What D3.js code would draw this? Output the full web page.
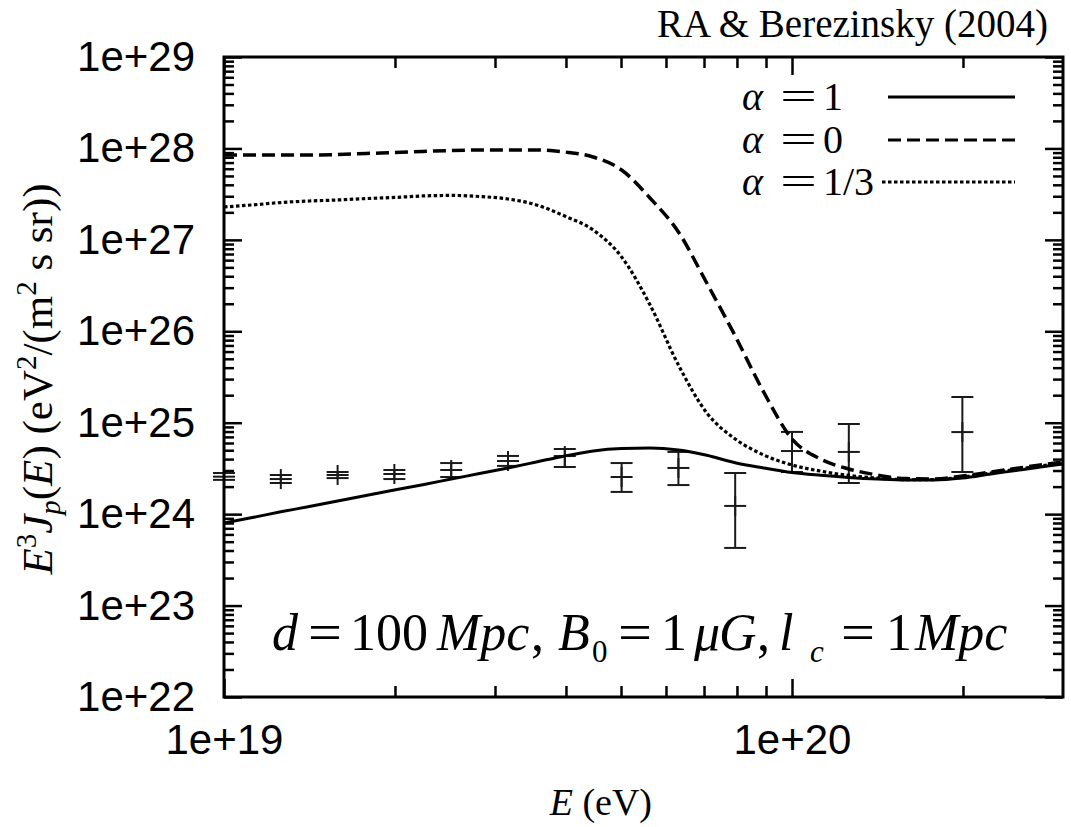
<!DOCTYPE html>
<html>
<head>
<meta charset="utf-8">
<script src="https://cdn.jsdelivr.net/npm/d3@7"></script>
<style>
  body { margin: 0; background: #ffffff; }
  svg { display: block; }
</style>
</head>
<body>
<svg id="chart" width="1071" height="827"></svg>
<script>
// ---- Model curves: E^3 J_p(E) for three injection indices ----
const curveEnergy = [1.000e19, 1.122e19, 1.259e19, 1.413e19, 1.585e19, 1.778e19, 1.995e19, 2.239e19,
  2.512e19, 2.818e19, 3.162e19, 3.548e19, 3.981e19, 4.467e19, 5.012e19, 5.623e19, 6.310e19, 7.079e19,
  7.943e19, 8.913e19, 1.000e20, 1.122e20, 1.259e20, 1.413e20, 1.585e20, 1.778e20, 1.995e20, 2.239e20,
  2.512e20, 2.818e20, 3.000e20];

const fluxAlpha1 = [8.00e23, 9.17e23, 1.06e24, 1.21e24, 1.39e24, 1.60e24, 1.84e24, 2.10e24,
  2.42e24, 2.78e24, 3.20e24, 3.72e24, 4.33e24, 4.91e24, 5.22e24, 5.29e24, 5.03e24, 4.40e24,
  3.65e24, 3.20e24, 2.85e24, 2.66e24, 2.52e24, 2.42e24, 2.36e24, 2.36e24, 2.48e24, 2.75e24,
  3.04e24, 3.37e24, 3.54e24];

const fluxAlpha0 = [8.47e27, 8.47e27, 8.47e27, 8.47e27, 8.58e27, 8.80e27, 9.03e27, 9.26e27,
  9.49e27, 9.62e27, 9.62e27, 9.62e27, 9.14e27, 8.06e27, 5.81e27, 2.87e27, 1.22e27, 3.37e26,
  8.89e25, 2.17e25, 6.64e24, 4.01e24, 3.12e24, 2.68e24, 2.45e24, 2.42e24, 2.61e24, 2.89e24,
  3.20e24, 3.54e24, 3.72e24];

const fluxAlphaThird = [2.29e27, 2.41e27, 2.56e27, 2.66e27, 2.73e27, 2.83e27, 2.91e27, 3.02e27,
  3.06e27, 2.98e27, 2.80e27, 2.41e27, 1.82e27, 1.28e27, 6.50e26, 1.95e26, 4.28e25, 1.28e25,
  6.64e24, 4.44e24, 3.45e24, 2.96e24, 2.65e24, 2.48e24, 2.39e24, 2.39e24, 2.55e24, 2.82e24,
  3.12e24, 3.45e24, 3.62e24];

// ---- Measured spectrum with error bars ----
const dataEnergy = [1.000e19, 1.259e19, 1.585e19, 1.995e19, 2.512e19, 3.162e19, 3.981e19,
  5.012e19, 6.310e19, 7.943e19, 1.000e20, 1.259e20, 1.995e20];
const dataFlux = [2.57e24, 2.42e24, 2.68e24, 2.75e24, 3.04e24, 3.81e24, 4.32e24,
  2.55e24, 3.20e24, 1.23e24, 4.90e24, 4.79e24, 7.90e24];
const dataLow = [2.37e24, 2.19e24, 2.48e24, 2.42e24, 2.55e24, 3.37e24, 3.28e24,
  1.75e24, 2.08e24, 4.27e23, 2.89e24, 2.19e24, 2.89e24];
const dataHigh = [2.82e24, 2.68e24, 2.89e24, 3.04e24, 3.62e24, 4.33e24, 5.16e24,
  3.62e24, 4.79e24, 2.82e24, 7.93e24, 9.68e24, 1.91e25];

// ---- Axis ticks and labels ----
const xMajorTicks = [1e19, 1e20];
const xTickLabels = ["1e+19", "1e+20"];
const yMajorTicks = [1e22, 1e23, 1e24, 1e25, 1e26, 1e27, 1e28, 1e29];
const yTickLabels = ["1e+22", "1e+23", "1e+24", "1e+25", "1e+26", "1e+27", "1e+28", "1e+29"];
const xMinorTicks = [2e19, 3e19, 4e19, 5e19, 6e19, 7e19, 8e19, 9e19, 2e20];
const yMinorTicks = [];
for (let d = 22; d < 29; d++) for (let m = 2; m <= 9; m++) yMinorTicks.push(m * Math.pow(10, d));

const legendLabels = ["1", "0", "1/3"];
const legendDash = [null, "13,6", "3.5,2.5"];

// ---- Layout ----
const svg = d3.select("#chart");
const plot = { left: 224, right: 1063, top: 57, bottom: 697 };

const x = d3.scaleLog().domain([1e19, 3e20]).range([plot.left, plot.right]);
const y = d3.scaleLog().domain([1e22, 1e29]).range([plot.bottom, plot.top]);

svg.append("rect").attr("width", 1071).attr("height", 827).attr("fill", "#fff");

const sansFont = "'Liberation Sans', Arial, Helvetica, sans-serif";
const serifFont = "'Liberation Serif', 'Times New Roman', Times, serif";

function styleAxis(g) {
  g.select(".domain").remove();
  g.selectAll(".tick line").attr("stroke", "#000").attr("stroke-width", 2.5);
  g.selectAll(".tick text").attr("fill", "#000")
    .style("font-family", sansFont).style("font-size", "42px");
}

// major ticks with labels (left, bottom); inward ticks on all sides
svg.append("g").attr("transform", `translate(${plot.left},0)`)
  .call(d3.axisLeft(y).tickValues(yMajorTicks).tickSize(-18).tickPadding(29)
    .tickFormat((d, i) => yTickLabels[i]))
  .call(styleAxis);
svg.append("g").attr("transform", `translate(0,${plot.bottom})`)
  .call(d3.axisBottom(x).tickValues(xMajorTicks).tickSize(-18).tickPadding(27)
    .tickFormat((d, i) => xTickLabels[i]))
  .call(styleAxis);
svg.append("g").attr("transform", `translate(${plot.right},0)`)
  .call(d3.axisRight(y).tickValues(yMajorTicks).tickSize(-18).tickFormat(""))
  .call(styleAxis);
svg.append("g").attr("transform", `translate(0,${plot.top})`)
  .call(d3.axisTop(x).tickValues(xMajorTicks).tickSize(-18).tickFormat(""))
  .call(styleAxis);

// minor ticks
svg.append("g").attr("transform", `translate(${plot.left},0)`)
  .call(d3.axisLeft(y).tickValues(yMinorTicks).tickSize(-10).tickFormat("")).call(styleAxis);
svg.append("g").attr("transform", `translate(${plot.right},0)`)
  .call(d3.axisRight(y).tickValues(yMinorTicks).tickSize(-10).tickFormat("")).call(styleAxis);
svg.append("g").attr("transform", `translate(0,${plot.bottom})`)
  .call(d3.axisBottom(x).tickValues(xMinorTicks).tickSize(-11).tickFormat("")).call(styleAxis);
svg.append("g").attr("transform", `translate(0,${plot.top})`)
  .call(d3.axisTop(x).tickValues(xMinorTicks).tickSize(-11).tickFormat("")).call(styleAxis);

// ---- Error bars ----
const bars = svg.append("g").attr("stroke", "#1a1a1a").attr("stroke-width", 2).attr("fill", "none");
dataEnergy.forEach((e, i) => {
  const cx = x(e), cy = y(dataFlux[i]);
  const yl = y(dataLow[i]), yh = y(dataHigh[i]);
  const g = bars.append("g");
  g.append("line").attr("x1", cx).attr("x2", cx).attr("y1", yl).attr("y2", yh);
  g.append("line").attr("x1", cx - 11).attr("x2", cx + 11).attr("y1", yl).attr("y2", yl);
  g.append("line").attr("x1", cx - 11).attr("x2", cx + 11).attr("y1", yh).attr("y2", yh);
  // plus-shaped point marker
  g.append("line").attr("x1", cx - 11).attr("x2", cx + 11).attr("y1", cy).attr("y2", cy);
  g.append("line").attr("x1", cx).attr("x2", cx).attr("y1", cy - 10).attr("y2", cy + 10);
});

// ---- Model curves ----
const line = d3.line().x(d => x(d[0])).y(d => y(d[1])).curve(d3.curveMonotoneX);
const series = [fluxAlpha1, fluxAlpha0, fluxAlphaThird];
const widths = [3, 3.5, 3.2];
series.forEach((vals, k) => {
  svg.append("path")
    .datum(curveEnergy.map((e, i) => [e, vals[i]]))
    .attr("d", line)
    .attr("fill", "none")
    .attr("stroke", "#000")
    .attr("stroke-width", widths[k])
    .attr("stroke-dasharray", legendDash[k]);
});

// ---- Frame ----
svg.append("rect")
  .attr("x", plot.left).attr("y", plot.top)
  .attr("width", plot.right - plot.left).attr("height", plot.bottom - plot.top)
  .attr("fill", "none").attr("stroke", "#000").attr("stroke-width", 3);

// ---- Legend ----
const legendRows = [97, 140, 182];
legendLabels.forEach((lab, k) => {
  const cy = legendRows[k];
  const t = svg.append("text").attr("y", cy + 13)
    .style("font-family", serifFont).style("font-size", "40px").attr("fill", "#000");
  t.append("tspan").attr("x", 742).style("font-style", "italic").text("α");
  t.append("tspan").attr("x", 780).attr("textLength", 37).attr("lengthAdjust", "spacingAndGlyphs").text("=");
  t.append("tspan").attr("x", 823).text(lab);
  svg.append("line")
    .attr("x1", k === 2 ? 882 : 888).attr("x2", 1015).attr("y1", cy).attr("y2", cy)
    .attr("stroke", "#000").attr("stroke-width", k === 0 ? 3 : 3.2)
    .attr("stroke-dasharray", legendDash[k]);
});

// ---- Reference line at top right ----
svg.append("text").attr("x", 1048).attr("y", 37).attr("text-anchor", "end")
  .style("font-family", serifFont).style("font-size", "39px").attr("fill", "#000")
  .text("RA & Berezinsky (2004)");

// ---- Parameter annotation ----
const ann = svg.append("text").attr("y", 650)
  .style("font-family", serifFont).style("font-size", "52px").attr("fill", "#000");
const annParts = [
  { x: 272, t: "d", it: true },
  { x: 308, t: "=", len: 34 },
  { x: 350, t: "100" },
  { x: 437, t: "Mpc", it: true },
  { x: 531, t: "," },
  { x: 558, t: "B", it: true },
  { x: 592, t: "0", sub: true },
  { x: 618, t: "=", len: 34 },
  { x: 661, t: "1" },
  { x: 694, t: "μ", it: true },
  { x: 719, t: "G", it: true },
  { x: 757, t: "," },
  { x: 779, t: "l", it: true },
  { x: 810, t: "c", it: true, sub: true },
  { x: 841, t: "=", len: 34 },
  { x: 886, t: "1" },
  { x: 915, t: "Mpc", it: true }
];
annParts.forEach(p => {
  const s = ann.append("tspan").attr("x", p.x).attr("y", p.sub ? 662 : 650).text(p.t);
  if (p.it) s.style("font-style", "italic");
  if (p.sub) s.style("font-size", "31px");
  if (p.len) s.attr("textLength", p.len).attr("lengthAdjust", "spacingAndGlyphs");
});

// ---- Axis titles ----
const xt = svg.append("text").attr("x", 652).attr("y", 815).attr("text-anchor", "end")
  .style("font-family", serifFont).style("font-size", "38px").attr("fill", "#000");
xt.append("tspan").style("font-style", "italic").text("E");
xt.append("tspan").text(" (eV)");

const yt = svg.append("text")
  .attr("transform", "translate(52,379) rotate(-90)")
  .attr("text-anchor", "middle")
  .style("font-family", serifFont).style("font-size", "43px").attr("fill", "#000");
yt.append("tspan").style("font-style", "italic").text("E");
yt.append("tspan").attr("dy", -16).style("font-size", "29px").text("3");
yt.append("tspan").attr("dy", 16).style("font-style", "italic").text("J");
yt.append("tspan").attr("dy", 8).style("font-size", "29px").style("font-style", "italic").text("p");
yt.append("tspan").attr("dy", -8).text("(");
yt.append("tspan").style("font-style", "italic").text("E");
yt.append("tspan").text(") (eV");
yt.append("tspan").attr("dy", -16).style("font-size", "29px").text("2");
yt.append("tspan").attr("dy", 16).text("/(m");
yt.append("tspan").attr("dy", -16).style("font-size", "29px").text("2");
yt.append("tspan").attr("dy", 16).text(" s sr))");
</script>
</body>
</html>
